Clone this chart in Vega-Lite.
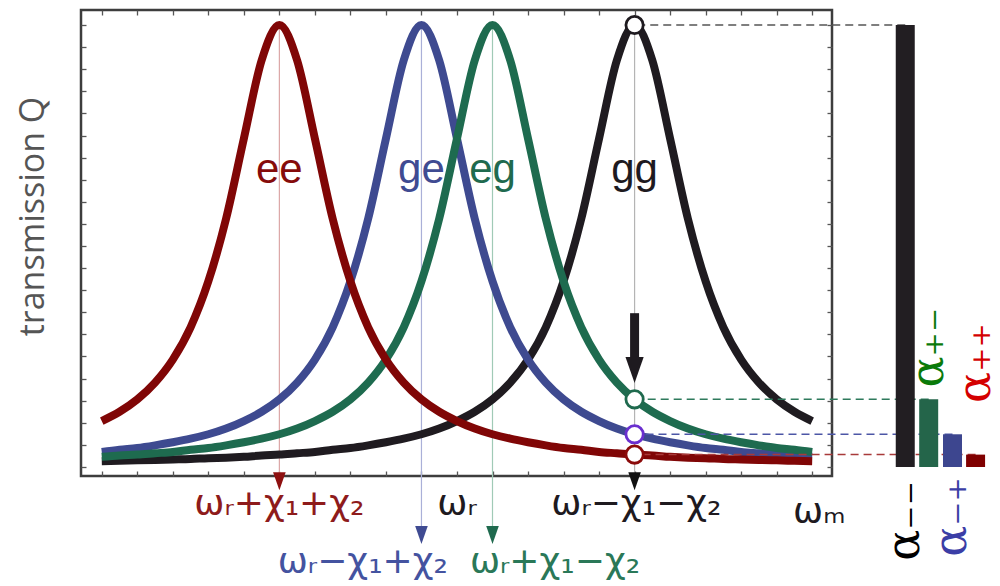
{
  "$schema": "https://vega.github.io/schema/vega-lite/v6.json",
  "width": 751,
  "height": 466,
  "autosize": {"type": "none"},
  "padding": {"left": 81, "top": 10, "right": 168, "bottom": 110},
  "background": "white",
  "config": {
    "view": {"stroke": "#3d3d3d", "strokeWidth": 2.5},
    "axis": {"domain": false, "labels": false, "grid": false, "ticks": true, "tickColor": "#555555", "tickSize": -5, "tickWidth": 1.3}
  },
  "datasets": {
    "curves": [
      {"u": -10, "ee": 0.104, "ge": 0.034, "eg": 0.023, "gg": 0.013},
      {"u": -9.5, "ee": 0.125, "ge": 0.039, "eg": 0.026, "gg": 0.014},
      {"u": -9, "ee": 0.153, "ge": 0.043, "eg": 0.028, "gg": 0.015},
      {"u": -8.5, "ee": 0.191, "ge": 0.049, "eg": 0.031, "gg": 0.016},
      {"u": -8, "ee": 0.243, "ge": 0.056, "eg": 0.034, "gg": 0.017},
      {"u": -7.5, "ee": 0.316, "ge": 0.064, "eg": 0.039, "gg": 0.018},
      {"u": -7, "ee": 0.42, "ge": 0.074, "eg": 0.043, "gg": 0.02},
      {"u": -6.5, "ee": 0.562, "ge": 0.087, "eg": 0.049, "gg": 0.021},
      {"u": -6, "ee": 0.743, "ge": 0.104, "eg": 0.056, "gg": 0.023},
      {"u": -5.5, "ee": 0.92, "ge": 0.125, "eg": 0.064, "gg": 0.026},
      {"u": -5, "ee": 1.0, "ge": 0.153, "eg": 0.074, "gg": 0.028},
      {"u": -4.5, "ee": 0.92, "ge": 0.191, "eg": 0.087, "gg": 0.031},
      {"u": -4, "ee": 0.743, "ge": 0.243, "eg": 0.104, "gg": 0.034},
      {"u": -3.5, "ee": 0.562, "ge": 0.316, "eg": 0.125, "gg": 0.039},
      {"u": -3, "ee": 0.42, "ge": 0.42, "eg": 0.153, "gg": 0.043},
      {"u": -2.5, "ee": 0.316, "ge": 0.562, "eg": 0.191, "gg": 0.049},
      {"u": -2, "ee": 0.243, "ge": 0.743, "eg": 0.243, "gg": 0.056},
      {"u": -1.5, "ee": 0.191, "ge": 0.92, "eg": 0.316, "gg": 0.064},
      {"u": -1, "ee": 0.153, "ge": 1.0, "eg": 0.42, "gg": 0.074},
      {"u": -0.5, "ee": 0.125, "ge": 0.92, "eg": 0.562, "gg": 0.087},
      {"u": 0, "ee": 0.104, "ge": 0.743, "eg": 0.743, "gg": 0.104},
      {"u": 0.5, "ee": 0.087, "ge": 0.562, "eg": 0.92, "gg": 0.125},
      {"u": 1, "ee": 0.074, "ge": 0.42, "eg": 1.0, "gg": 0.153},
      {"u": 1.5, "ee": 0.064, "ge": 0.316, "eg": 0.92, "gg": 0.191},
      {"u": 2, "ee": 0.056, "ge": 0.243, "eg": 0.743, "gg": 0.243},
      {"u": 2.5, "ee": 0.049, "ge": 0.191, "eg": 0.562, "gg": 0.316},
      {"u": 3, "ee": 0.043, "ge": 0.153, "eg": 0.42, "gg": 0.42},
      {"u": 3.5, "ee": 0.039, "ge": 0.125, "eg": 0.316, "gg": 0.562},
      {"u": 4, "ee": 0.034, "ge": 0.104, "eg": 0.243, "gg": 0.743},
      {"u": 4.5, "ee": 0.031, "ge": 0.087, "eg": 0.191, "gg": 0.92},
      {"u": 5, "ee": 0.028, "ge": 0.074, "eg": 0.153, "gg": 1.0},
      {"u": 5.5, "ee": 0.026, "ge": 0.064, "eg": 0.125, "gg": 0.92},
      {"u": 6, "ee": 0.023, "ge": 0.056, "eg": 0.104, "gg": 0.743},
      {"u": 6.5, "ee": 0.021, "ge": 0.049, "eg": 0.087, "gg": 0.562},
      {"u": 7, "ee": 0.02, "ge": 0.043, "eg": 0.074, "gg": 0.42},
      {"u": 7.5, "ee": 0.018, "ge": 0.039, "eg": 0.064, "gg": 0.316},
      {"u": 8, "ee": 0.017, "ge": 0.034, "eg": 0.056, "gg": 0.243},
      {"u": 8.5, "ee": 0.016, "ge": 0.031, "eg": 0.049, "gg": 0.191},
      {"u": 9, "ee": 0.015, "ge": 0.028, "eg": 0.043, "gg": 0.153},
      {"u": 9.5, "ee": 0.014, "ge": 0.026, "eg": 0.039, "gg": 0.125},
      {"u": 10, "ee": 0.013, "ge": 0.023, "eg": 0.034, "gg": 0.104}
    ],
    "peaks": [
      {"curve": "ee", "u": -5, "peakQ": 1.0, "labelQ": 0.643, "arrowQ": -0.032},
      {"curve": "ge", "u": -1, "peakQ": 1.0, "labelQ": 0.643, "arrowQ": -0.154},
      {"curve": "eg", "u": 1, "peakQ": 1.0, "labelQ": 0.643, "arrowQ": -0.154},
      {"curve": "gg", "u": 5, "peakQ": 1.0, "labelQ": 0.643, "arrowQ": -0.032}
    ],
    "bars": [
      {"state": "α₋₋", "curve": "gg", "alpha": 1.0, "slot": 12.62, "labelQ": -0.122},
      {"state": "α₊₋", "curve": "eg", "alpha": 0.153, "slot": 13.28, "labelQ": 0.27},
      {"state": "α₋₊", "curve": "ge", "alpha": 0.074, "slot": 13.95, "labelQ": -0.113},
      {"state": "α₊₊", "curve": "ee", "alpha": 0.028, "slot": 14.6, "labelQ": 0.235}
    ],
    "xlabels": [
      {"text": "ωᵣ+χ₁+χ₂", "curve": "ee", "u": -5, "Q": -0.109},
      {"text": "ωᵣ−χ₁+χ₂", "curve": "ge", "u": -2.65, "Q": -0.24},
      {"text": "ωᵣ+χ₁−χ₂", "curve": "eg", "u": 2.76, "Q": -0.24},
      {"text": "ωᵣ−χ₁−χ₂", "curve": "gg", "u": 5.05, "Q": -0.109},
      {"text": "ωᵣ", "curve": "gg", "u": 0, "Q": -0.109},
      {"text": "ωₘ", "curve": "gg", "u": 10.2, "Q": -0.127}
    ],
    "bigarrow": [
      {"u": 5, "shaftTop": 0.348, "shaftBottom": 0.24, "headQ": 0.2195}
    ]
  },
  "resolve": {"axis": {"x": "independent", "y": "independent"}, "scale": {"color": "independent"}},
  "layer": [
    {
      "data": {"name": "peaks"},
      "mark": {"type": "rule", "strokeWidth": 1.2},
      "encoding": {
        "x": {"field": "u", "type": "quantitative", "scale": {"domain": [-10.444, 10.417], "nice": false, "zero": false}, "axis": null},
        "y": {"field": "peakQ", "type": "quantitative", "scale": {"domain": [-0.0204, 1.034], "nice": false, "zero": false}, "axis": null},
        "y2": {"field": "arrowQ"},
        "color": {"field": "curve", "type": "nominal", "legend": null, "scale": {"domain": ["ee", "ge", "eg", "gg"], "range": ["#dca6a6", "#aab0d8", "#a0cab6", "#b4b4b4"]}}
      }
    },
    {
      "data": {"name": "peaks"},
      "mark": {"type": "point", "shape": "M0,1L-0.7,-1L0.7,-1Z", "filled": true, "size": 324, "opacity": 1, "strokeWidth": 0},
      "encoding": {
        "x": {"field": "u", "type": "quantitative", "scale": {"domain": [-10.444, 10.417], "nice": false, "zero": false}, "axis": null},
        "y": {"field": "arrowQ", "type": "quantitative", "scale": {"domain": [-0.0204, 1.034], "nice": false, "zero": false}, "axis": null},
        "color": {"field": "curve", "type": "nominal", "legend": null, "scale": {"domain": ["ee", "ge", "eg", "gg"], "range": ["#8e1010", "#3f4b92", "#1f6a4e", "#111111"]}}
      }
    },
    {
      "data": {"name": "curves"},
      "mark": {"type": "line", "strokeWidth": 8, "interpolate": "monotone", "strokeCap": "butt", "color": "#1f1b20"},
      "encoding": {
        "x": {"field": "u", "type": "quantitative", "scale": {"domain": [-10.444, 10.417], "nice": false, "zero": false}, "axis": {"orient": "bottom", "values": [-10, -9, -8, -7, -6, -5, -4, -3, -2, -1, 0, 1, 2, 3, 4, 5, 6, 7, 8, 9, 10], "title": null}},
        "y": {"field": "gg", "type": "quantitative", "scale": {"domain": [-0.0204, 1.034], "nice": false, "zero": false}, "axis": {"orient": "left", "values": [0, 0.05, 0.1, 0.15, 0.2, 0.25, 0.3, 0.35, 0.4, 0.45, 0.5, 0.55, 0.6, 0.65, 0.7, 0.75, 0.8, 0.85, 0.9, 0.95, 1.0], "title": "transmission Q", "titleFont": "Open Sans", "titleFontSize": 34, "titleFontWeight": "normal", "titleColor": "#555555", "titlePadding": 30, "titleY": 206}}
      }
    },
    {
      "data": {"name": "curves"},
      "mark": {"type": "line", "strokeWidth": 8, "interpolate": "monotone", "strokeCap": "butt", "color": "#3e4a90"},
      "encoding": {
        "x": {"field": "u", "type": "quantitative", "scale": {"domain": [-10.444, 10.417], "nice": false, "zero": false}, "axis": {"orient": "top", "values": [-10, -9, -8, -7, -6, -5, -4, -3, -2, -1, 0, 1, 2, 3, 4, 5, 6, 7, 8, 9, 10], "title": null}},
        "y": {"field": "ge", "type": "quantitative", "scale": {"domain": [-0.0204, 1.034], "nice": false, "zero": false}, "axis": {"orient": "right", "values": [0, 0.05, 0.1, 0.15, 0.2, 0.25, 0.3, 0.35, 0.4, 0.45, 0.5, 0.55, 0.6, 0.65, 0.7, 0.75, 0.8, 0.85, 0.9, 0.95, 1.0], "title": null}}
      }
    },
    {
      "data": {"name": "curves"},
      "mark": {"type": "line", "strokeWidth": 8, "interpolate": "monotone", "strokeCap": "butt", "color": "#1e6b4f"},
      "encoding": {
        "x": {"field": "u", "type": "quantitative", "scale": {"domain": [-10.444, 10.417], "nice": false, "zero": false}, "axis": null},
        "y": {"field": "eg", "type": "quantitative", "scale": {"domain": [-0.0204, 1.034], "nice": false, "zero": false}, "axis": null}
      }
    },
    {
      "data": {"name": "curves"},
      "mark": {"type": "line", "strokeWidth": 8, "interpolate": "monotone", "strokeCap": "butt", "color": "#800606"},
      "encoding": {
        "x": {"field": "u", "type": "quantitative", "scale": {"domain": [-10.444, 10.417], "nice": false, "zero": false}, "axis": null},
        "y": {"field": "ee", "type": "quantitative", "scale": {"domain": [-0.0204, 1.034], "nice": false, "zero": false}, "axis": null}
      }
    },
    {
      "data": {"name": "peaks"},
      "mark": {"type": "text", "font": "Liberation Sans", "fontSize": 42, "align": "center", "baseline": "alphabetic"},
      "encoding": {
        "x": {"field": "u", "type": "quantitative", "scale": {"domain": [-10.444, 10.417], "nice": false, "zero": false}, "axis": null},
        "y": {"field": "labelQ", "type": "quantitative", "scale": {"domain": [-0.0204, 1.034], "nice": false, "zero": false}, "axis": null},
        "text": {"field": "curve"},
        "color": {"field": "curve", "type": "nominal", "legend": null, "scale": {"domain": ["ee", "ge", "eg", "gg"], "range": ["#850b0b", "#3f4b92", "#1f6a4e", "#1e1a1f"]}}
      }
    },
    {
      "data": {"name": "xlabels"},
      "mark": {"type": "text", "font": "DejaVu Sans", "fontSize": 36, "align": "center", "baseline": "alphabetic"},
      "encoding": {
        "x": {"field": "u", "type": "quantitative", "scale": {"domain": [-10.444, 10.417], "nice": false, "zero": false}, "axis": null},
        "y": {"field": "Q", "type": "quantitative", "scale": {"domain": [-0.0204, 1.034], "nice": false, "zero": false}, "axis": null},
        "text": {"field": "text"},
        "color": {"field": "curve", "type": "nominal", "legend": null, "scale": {"domain": ["ee", "ge", "eg", "gg"], "range": ["#8e1b1b", "#4453a0", "#2a7858", "#1e1a1f"]}}
      }
    },
    {
      "data": {"name": "bars"},
      "mark": {"type": "rule", "strokeWidth": 1.5, "strokeDash": [8, 5]},
      "encoding": {
        "x": {"field": "slot", "type": "quantitative", "scale": {"domain": [-10.444, 10.417], "nice": false, "zero": false}, "axis": null},
        "x2": {"datum": 5},
        "y": {"field": "alpha", "type": "quantitative", "scale": {"domain": [-0.0204, 1.034], "nice": false, "zero": false}, "axis": null},
        "color": {"field": "curve", "type": "nominal", "legend": null, "scale": {"domain": ["ee", "ge", "eg", "gg"], "range": ["#a83a3a", "#4c56a6", "#2e7a5c", "#555555"]}}
      }
    },
    {
      "data": {"name": "bars"},
      "mark": {"type": "bar", "orient": "vertical", "width": 19},
      "encoding": {
        "x": {"field": "slot", "type": "quantitative", "scale": {"domain": [-10.444, 10.417], "nice": false, "zero": false}, "axis": null},
        "y": {"field": "alpha", "type": "quantitative", "scale": {"domain": [-0.0204, 1.034], "nice": false, "zero": false}, "axis": null},
        "y2": {"datum": 0},
        "color": {"field": "curve", "type": "nominal", "legend": null, "scale": {"domain": ["ee", "ge", "eg", "gg"], "range": ["#800000", "#3d468f", "#24654a", "#221e22"]}}
      }
    },
    {
      "data": {"name": "bars"},
      "mark": {"type": "point", "shape": "circle", "size": 300, "strokeWidth": 2.8, "fill": "white", "fillOpacity": 1, "opacity": 1},
      "encoding": {
        "x": {"datum": 5, "type": "quantitative", "scale": {"domain": [-10.444, 10.417], "nice": false, "zero": false}, "axis": null},
        "y": {"field": "alpha", "type": "quantitative", "scale": {"domain": [-0.0204, 1.034], "nice": false, "zero": false}, "axis": null},
        "stroke": {"field": "curve", "type": "nominal", "legend": null, "scale": {"domain": ["ee", "ge", "eg", "gg"], "range": ["#8b0b0b", "#6a2fcf", "#1f6a4e", "#1e1a1f"]}}
      }
    },
    {
      "data": {"name": "bigarrow"},
      "mark": {"type": "rule", "strokeWidth": 9, "color": "#1e1a1f"},
      "encoding": {
        "x": {"field": "u", "type": "quantitative", "scale": {"domain": [-10.444, 10.417], "nice": false, "zero": false}, "axis": null},
        "y": {"field": "shaftTop", "type": "quantitative", "scale": {"domain": [-0.0204, 1.034], "nice": false, "zero": false}, "axis": null},
        "y2": {"field": "shaftBottom"}
      }
    },
    {
      "data": {"name": "bigarrow"},
      "mark": {"type": "point", "shape": "M0,1L-0.7,-1L0.7,-1Z", "filled": true, "size": 676, "opacity": 1, "color": "#1e1a1f", "strokeWidth": 0},
      "encoding": {
        "x": {"field": "u", "type": "quantitative", "scale": {"domain": [-10.444, 10.417], "nice": false, "zero": false}, "axis": null},
        "y": {"field": "headQ", "type": "quantitative", "scale": {"domain": [-0.0204, 1.034], "nice": false, "zero": false}, "axis": null}
      }
    },
    {
      "data": {"name": "bars"},
      "mark": {"type": "text", "font": "DejaVu Serif", "fontSize": 46, "angle": 270, "align": "center", "baseline": "middle"},
      "encoding": {
        "x": {"field": "slot", "type": "quantitative", "scale": {"domain": [-10.444, 10.417], "nice": false, "zero": false}, "axis": null},
        "y": {"field": "labelQ", "type": "quantitative", "scale": {"domain": [-0.0204, 1.034], "nice": false, "zero": false}, "axis": null},
        "text": {"field": "state"},
        "color": {"field": "curve", "type": "nominal", "legend": null, "scale": {"domain": ["ee", "ge", "eg", "gg"], "range": ["#d40000", "#3b3ea6", "#0a7a0a", "#000000"]}}
      }
    }
  ]
}
